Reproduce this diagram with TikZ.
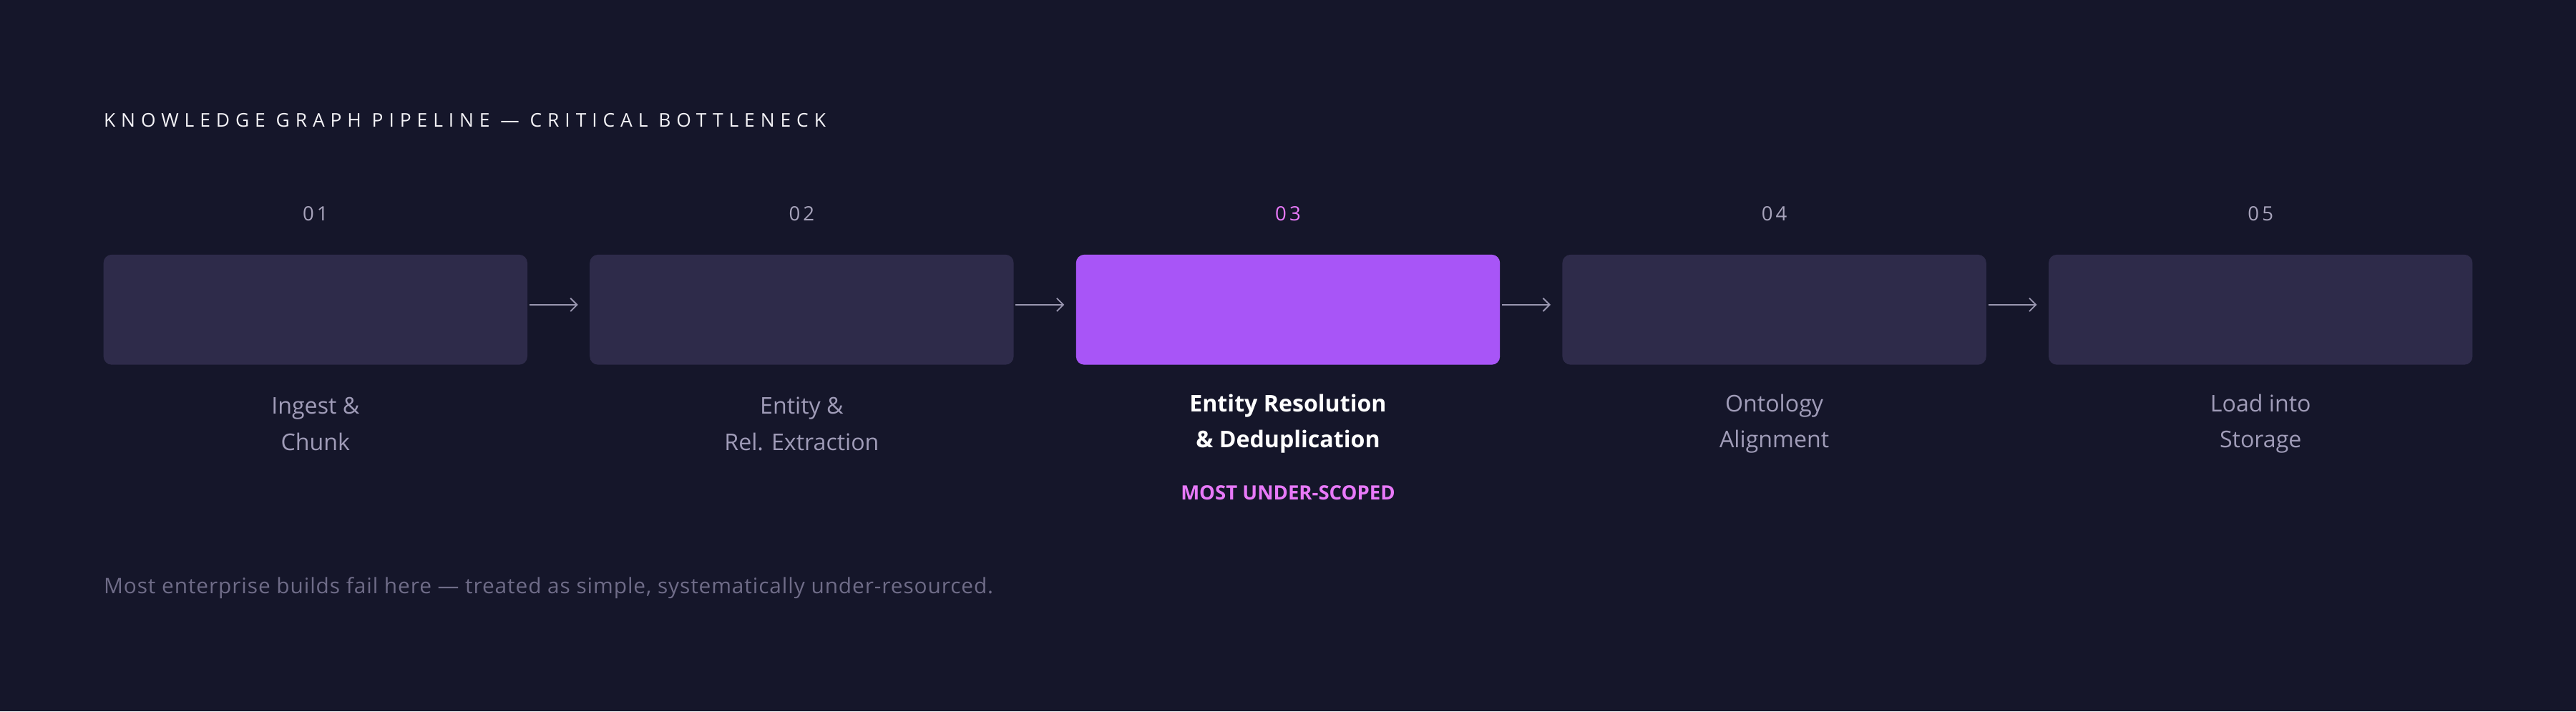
\documentclass[tikz,border=0pt]{standalone}
\usepackage{fontspec}
\setmainfont{Open Sans}
\newfontfamily\spaced[LetterSpace=30]{Open Sans}
\newfontfamily\spacedb[LetterSpace=10,UprightFont=*,BoldFont=*]{Open Sans}
\newfontfamily\numf[LetterSpace=15]{Open Sans}
\newfontfamily\footf[LetterSpace=3]{Open Sans}
\definecolor{bg}{HTML}{15162A}
\definecolor{boxc}{HTML}{2E2B4A}
\definecolor{hot}{HTML}{A855F7}
\definecolor{pinkc}{HTML}{E879F9}
\definecolor{lab}{HTML}{A09CB8}
\definecolor{numc}{HTML}{A8A4BC}
\definecolor{foot}{HTML}{6F6C88}
\definecolor{arr}{HTML}{9A97B0}
\usetikzlibrary{arrows.meta}
\begin{document}
\begin{tikzpicture}[x=1pt,y=-1pt,
 stage/.style={fill=boxc,rounded corners=5pt,minimum width=258pt,minimum height=67pt,inner sep=0pt},
 num/.style={text=numc,font=\numf\fontsize{12}{14}\selectfont},
 lbl/.style={text=lab,font=\fontsize{14}{22}\selectfont,align=center},
 con/.style={draw=arr,line width=0.8pt,-{Straight Barb[length=4pt,width=8pt]}}]
\fill[bg] (0,0) rectangle (1568,433);
\node[anchor=west,inner sep=0pt,text=white!88!lab,font=\spaced\fontsize{11.5}{13}\selectfont] (title) at (63,73) {KNOWLEDGE GRAPH PIPELINE — CRITICAL BOTTLENECK};
\foreach \i/\x in {1/192,2/488,3/784,4/1080,5/1376}{
  \node[stage] (b\i) at (\x,188.5) {};
}
\node[stage,fill=hot] at (b3) {};
\node[num] (n1) at (192,130) {01};
\node[num] (n2) at (488,130) {02};
\node[num,text=pinkc] (n3) at (784,130) {03};
\node[num] (n4) at (1080,130) {04};
\node[num] (n5) at (1376,130) {05};
\node[lbl] (l1) at (192,258) {Ingest \&\\Chunk};
\node[lbl] (l2) at (488,258) {Entity \&\\Rel. Extraction};
\node[lbl,text=white,font=\bfseries\fontsize{14}{22}\selectfont] (l3) at (784,258) {Entity Resolution\\\& Deduplication};
\node[lbl] (l4) at (1080,258) {Ontology\\Alignment};
\node[lbl] (l5) at (1376,258) {Load into\\Storage};
\node[text=pinkc,font=\bfseries\fontsize{12}{14}\selectfont] (ms) at (784,300) {MOST UNDER-SCOPED};
\node[anchor=west,inner sep=0pt,text=foot,font=\footf\fontsize{13}{15}\selectfont] (ft) at (63,358) {Most enterprise builds fail here — treated as simple, systematically under-resourced.};
\foreach \a/\b in {1/2,2/3,3/4,4/5}{
  \draw[con] ([xshift=1pt,yshift=3pt]b\a.east) -- ([xshift=-7pt,yshift=3pt]b\b.west);
}
\end{tikzpicture}
\end{document}
